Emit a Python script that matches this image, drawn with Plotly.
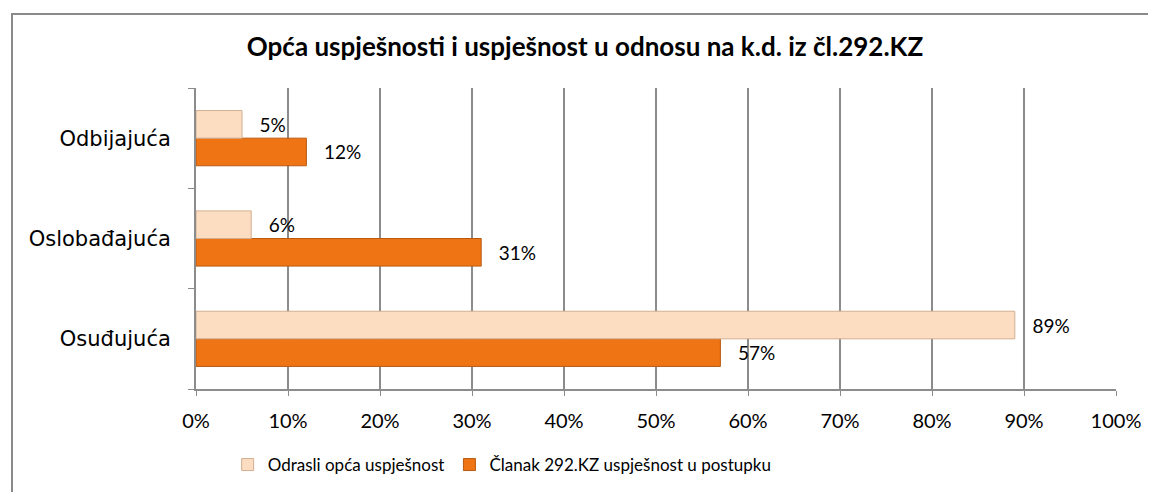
import plotly.graph_objects as go

categories = ["Osuđujuća", "Oslobađajuća", "Odbijajuća"]
odrasli = [89, 6, 5]
clanak = [57, 31, 12]
series_names = ["Odrasli opća uspješnost", "Članak 292.KZ uspješnost u postupku"]
title_text = "<b>Opća uspješnosti i uspješnost u odnosu na k.d. iz čl.292.KZ</b>"

# The page body has an 8px default margin; layout numbers below compensate.
label_font = dict(family="Lato", size=19, color="#000000")

fig = go.Figure()
fig.add_trace(go.Bar(
    y=categories, x=clanak, orientation="h", name=series_names[1],
    marker=dict(color="#EF7414", line=dict(color="#B85A10", width=1)),
    text=[f"{v}%" for v in clanak], texttemplate="   %{text}",
    textposition="outside", textfont=label_font, cliponaxis=False,
    legendrank=2,
))
fig.add_trace(go.Bar(
    y=categories, x=odrasli, orientation="h", name=series_names[0],
    marker=dict(color="#FCDDC2", line=dict(color="#D2AE90", width=1)),
    text=[f"{v}%" for v in odrasli], texttemplate="   %{text}",
    textposition="outside", textfont=label_font, cliponaxis=False,
    legendrank=1,
))

fig.update_layout(
    width=1156, height=492,
    margin=dict(l=188, r=48, t=80, b=111),
    paper_bgcolor="white", plot_bgcolor="white",
    barmode="group", bargap=0.45, bargroupgap=0,
    title=dict(text=title_text, x=577/1156, xref="container", xanchor="center",
               y=1-39/492, yref="container", yanchor="middle",
               font=dict(family="Lato", size=26, color="#000000")),
    showlegend=True,
    legend=dict(orientation="h", x=0.0344, xanchor="left", y=(381-457)/301, yanchor="middle",
                font=dict(family="Lato", size=17, color="#000000"),
                tracegroupgap=0, bgcolor="rgba(0,0,0,0)"),
    shapes=[dict(type="rect", xref="paper", yref="paper",
                 x0=(4-188)/920, x1=1.2, y0=-0.6, y1=(381-6)/301,
                 line=dict(color="#8a8a8a", width=2), fillcolor="rgba(0,0,0,0)", layer="below")],
)

fig.update_xaxes(
    range=[0, 100], dtick=10, ticksuffix="%",
    showgrid=True, gridcolor="#8c8c8c", gridwidth=1.5,
    showline=True, linecolor="#8c8c8c", linewidth=2,
    ticks="outside", ticklen=5, tickcolor="#8c8c8c",
    tickfont=dict(family="Lato", size=20, color="#000000"),
    ticklabelstandoff=8, zeroline=False,
)
fig.update_yaxes(
    categoryorder="array", categoryarray=categories,
    showline=True, linecolor="#8c8c8c", linewidth=2,
    ticks="outside", ticklen=6, tickcolor="#8c8c8c", tickson="boundaries",
    tickfont=dict(family="DejaVu Sans", size=21, color="#000000"),
    ticklabelstandoff=19, showgrid=False,
)

fig.write_html("out.html")
